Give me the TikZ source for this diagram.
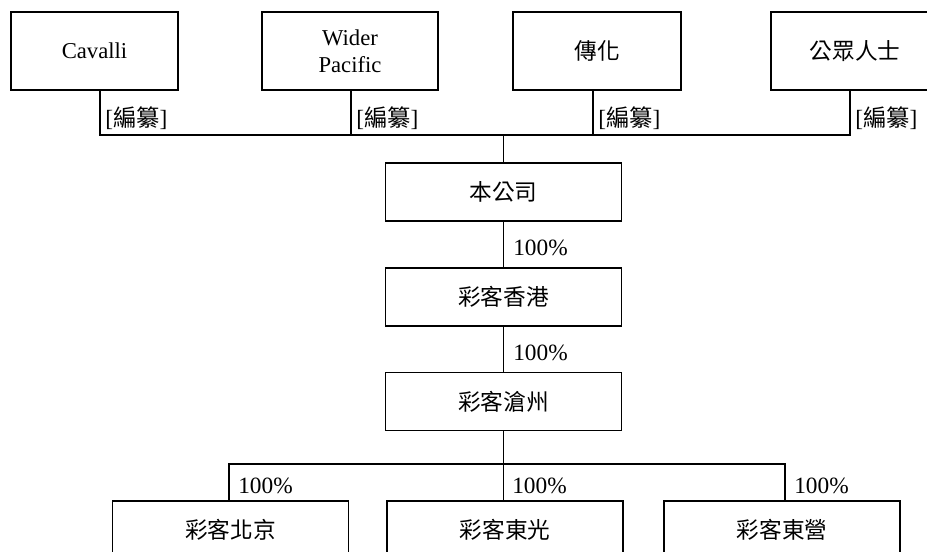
\documentclass[tikz,border=0pt]{standalone}
\usepackage{fontspec}
\setmainfont{Liberation Serif}
\newfontfamily\cjk{Noto Sans CJK TC}
\usepackage{tikz}

\begin{document}
\begin{tikzpicture}[x=0.75pt,y=-0.75pt,
	topbox/.style={shape=rectangle,draw=black,line width=1pt,inner sep=0pt,minimum height=58.5pt,align=center,font=\fontsize{17}{20.5}\selectfont},
	midbox/.style={shape=rectangle,draw=black,line width=1pt,inner sep=0pt,minimum width=177pt,minimum height=43.5pt,font=\fontsize{17}{20}\selectfont},
	tag/.style={anchor=west,inner sep=0pt,font=\fontsize{17.5}{20}\selectfont},
	line/.style={draw=black,line width=0.9pt}]
	\useasboundingbox (0,0) rectangle (927,551);
	\clip (0,0) rectangle (927,551);

	\node[topbox,minimum width=125.3pt] (cavalli) at (94.5,51)  {Cavalli};
	\node[topbox,minimum width=132pt]   (wider)   at (350,51)   {Wider\\Pacific};
	\node[topbox,minimum width=126pt]   (chuanhua) at (597,51)  {\cjk 傳化};
	\node[topbox,minimum width=126pt]   (public)  at (855,51)   {\cjk 公眾人士};

	\node[midbox] (company)  at (503.5,192)   {\cjk 本公司};
	\node[midbox] (hk)       at (503.5,297)   {\cjk 彩客香港};
	\node[midbox] (cangzhou) at (503.5,401.5) {\cjk 彩客滄州};

	\node[midbox] (beijing)   at (230.5,530) {\cjk 彩客北京};
	\node[midbox] (dongguang) at (505,530)   {\cjk 彩客東光};
	\node[midbox] (dongying)  at (782,530)   {\cjk 彩客東營};

	\coordinate (bus) at (503.5,135);
	\coordinate (lowbus) at (503.5,464);

	\path[line] ([xshift=4.1pt]cavalli.south) |- (bus);
	\path[line] ([xshift=0.8pt]wider.south) -- ([xshift=0.8pt]wider.south |- bus);
	\path[line] ([xshift=-3pt]chuanhua.south) |- (bus);
	\path[line] ([xshift=-3.75pt]public.south) |- (bus);
	\path[line] (bus) -- (company.north);

	\node[tag] (tagcavalli) at (105,118) {[{\cjk 編纂}]};
	\node[tag] (tagwider)   at (356,118) {[{\cjk 編纂}]};
	\node[tag] (tagchuanhua) at (598,118) {[{\cjk 編纂}]};
	\node[tag] (tagpublic)  at (855,118) {[{\cjk 編纂}]};

	\path[line] (company) -- (hk);
	\path[line] (hk) -- (cangzhou);
	\node[tag] (pcthk) at (513,248) {100\%};
	\node[tag] (pctcz) at (513,353) {100\%};

	\path[line] (cangzhou.south) -- (lowbus);
	\path[line] (lowbus) -| ([xshift=-1.1pt]beijing.north);
	\path[line] (lowbus) -| ([xshift=2.3pt]dongying.north);
	\path[line] (lowbus) -- (lowbus |- dongguang.north);

	\node[tag] (pctbj) at (238,486) {100\%};
	\node[tag] (pctdg) at (512,486) {100\%};
	\node[tag] (pctdy) at (794,486) {100\%};
\end{tikzpicture}
\end{document}
